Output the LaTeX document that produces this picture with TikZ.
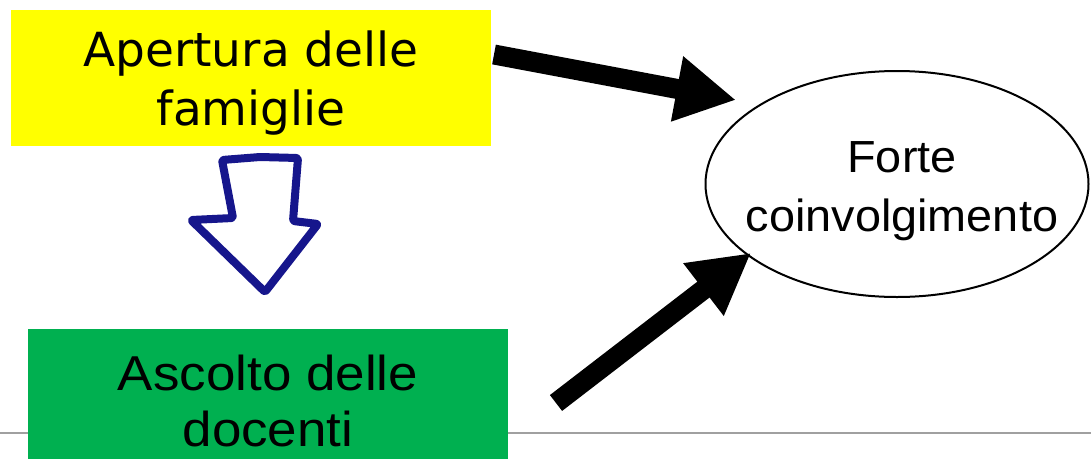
\documentclass[tikz,border=0pt]{standalone}
\usepackage{fontspec}
\setmainfont{Liberation Sans}
\newfontfamily\yfont{DejaVu Sans}
\newfontfamily\afont[FakeStretch=1.08]{Liberation Sans}
\newfontfamily\efont[FakeStretch=1.04]{Liberation Sans}
\usetikzlibrary{shapes.geometric,arrows.meta}
\definecolor{ybox}{RGB}{255,255,0}
\definecolor{gbox}{RGB}{0,176,80}
\definecolor{navy}{RGB}{22,22,140}
\definecolor{rule}{RGB}{160,160,160}
\tikzset{
  fatarrow/.style={line width=20pt, -{Triangle[width=62pt,length=60pt]}, black},
  boxtext/.style={inner sep=0pt, align=center, text=black},
  handarrow/.style={draw=navy, line width=8pt, line join=round, line cap=round, rounded corners=2pt},
}
\begin{document}
\begin{tikzpicture}[x=1pt,y=-1pt]
\useasboundingbox (0,0) rectangle (1091,458);
\clip (0,0) rectangle (1091,458);
% bottom rule
\coordinate (ruleL) at (0,433);
\coordinate (ruleR) at (1091,433);
\draw[rule, line width=2pt] (ruleL) -- (ruleR);
% yellow box
\node[fill=ybox, inner sep=0pt, minimum width=480pt, minimum height=136pt] (yb) at (251,78) {};
\node[boxtext, font=\yfont\fontsize{47}{59}\selectfont] (ybt) at (251,83) {Apertura delle\\famiglie};
% green box
\node[fill=gbox, inner sep=0pt, minimum width=480pt, minimum height=142pt] (gb) at (268,400) {};
\node[boxtext, font=\afont\fontsize{49}{56}\selectfont] (gbt) at (268,401) {Ascolto delle\\docenti};
% ellipse
\node[ellipse, draw=black, line width=2pt, inner sep=0pt, minimum width=383pt, minimum height=226pt] (el) at (897,184) {};
\node[boxtext, font=\efont\fontsize{45}{59}\selectfont] (elt) at (902,191) {Forte\\coinvolgimento};
% fat arrows
\coordinate (t1) at (494,54.5);
\coordinate (h1) at (736,100);
\coordinate (t2) at (556,403);
\coordinate (h2) at (751,253);
\draw[fatarrow] (t1) -- (h1);
\draw[fatarrow] (t2) -- (h2);
% hand-drawn down arrow
\coordinate (a1) at (222,160);
\coordinate (a2) at (260,157);
\coordinate (a3) at (298,158);
\coordinate (a4) at (293,221);
\coordinate (a5) at (318,224);
\coordinate (a6) at (265,292);
\coordinate (a7) at (191,220);
\coordinate (a8) at (233,218);
\draw[handarrow] (a1) -- (a2) -- (a3) -- (a4) -- (a5) -- (a6) -- (a7) -- (a8) -- cycle;
\end{tikzpicture}
\end{document}
